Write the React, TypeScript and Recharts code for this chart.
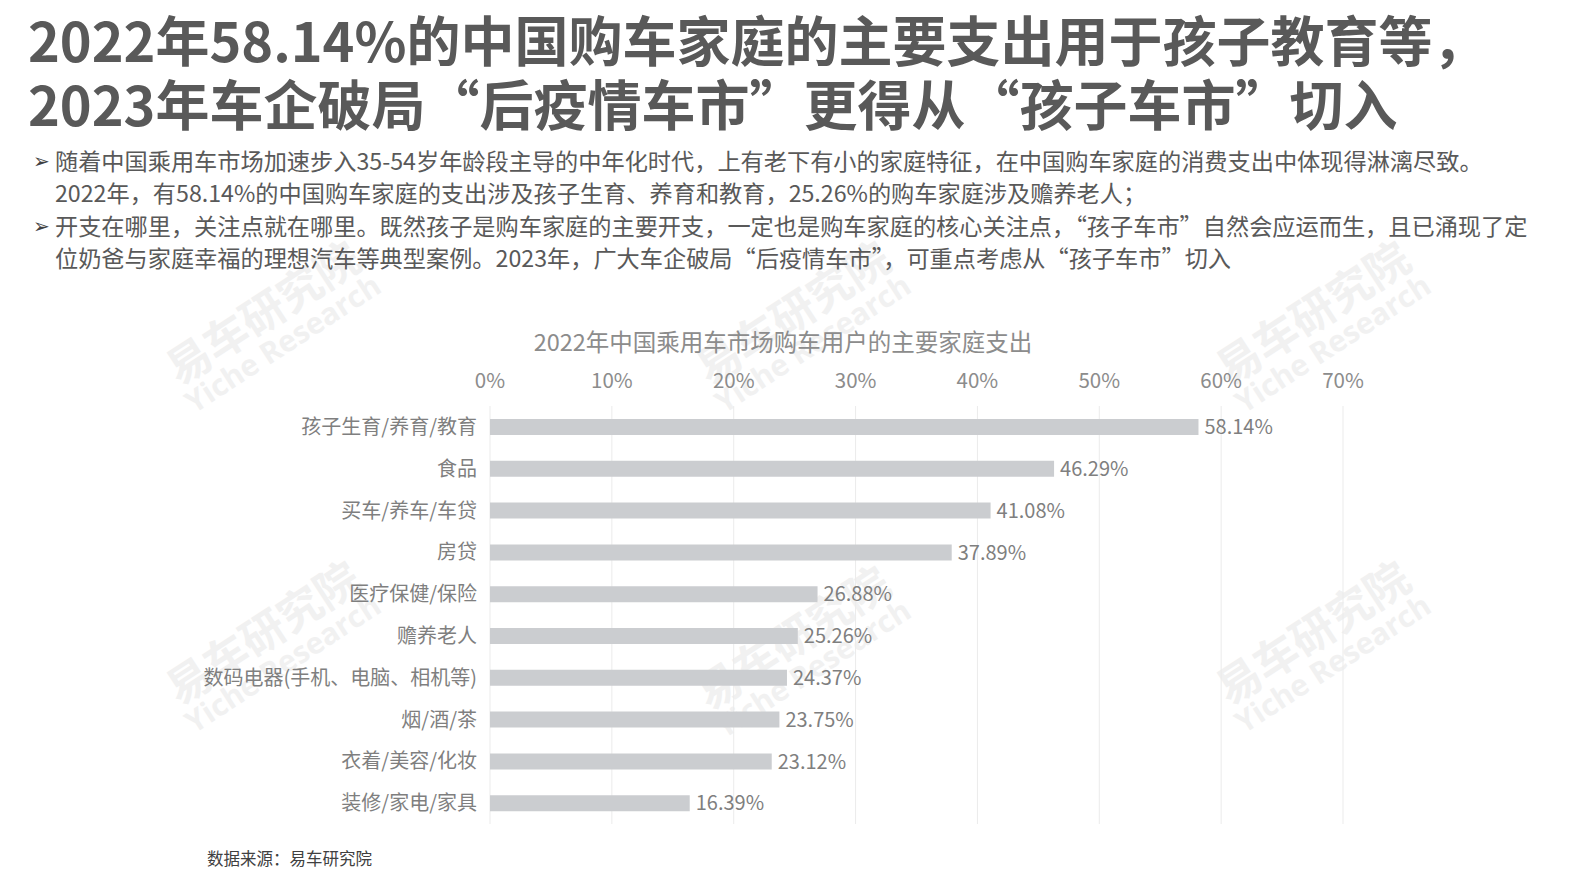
import React from "react";
import {
  BarChart,
  Bar,
  XAxis,
  YAxis,
  CartesianGrid,
  LabelList,
} from "recharts";

const categories = [
  "孩子生育/养育/教育",
  "食品",
  "买车/养车/车贷",
  "房贷",
  "医疗保健/保险",
  "赡养老人",
  "数码电器(手机、电脑、相机等)",
  "烟/酒/茶",
  "衣着/美容/化妆",
  "装修/家电/家具",
];
const shares = [58.14, 46.29, 41.08, 37.89, 26.88, 25.26, 24.37, 23.75, 23.12, 16.39];
const axisTicks = [0, 10, 20, 30, 40, 50, 60, 70];

const titleLines = [
  "2022年58.14%的中国购车家庭的主要支出用于孩子教育等，",
  "2023年车企破局“后疫情车市”更得从“孩子车市”切入",
];
const bullets = [
  [
    "随着中国乘用车市场加速步入35-54岁年龄段主导的中年化时代，上有老下有小的家庭特征，在中国购车家庭的消费支出中体现得淋漓尽致。",
    "2022年，有58.14%的中国购车家庭的支出涉及孩子生育、养育和教育，25.26%的购车家庭涉及赡养老人；",
  ],
  [
    "开支在哪里，关注点就在哪里。既然孩子是购车家庭的主要开支，一定也是购车家庭的核心关注点，“孩子车市”自然会应运而生，且已涌现了定",
    "位奶爸与家庭幸福的理想汽车等典型案例。2023年，广大车企破局“后疫情车市”，可重点考虑从“孩子车市”切入",
  ],
];
const chartTitle = "2022年中国乘用车市场购车用户的主要家庭支出";
const source = "数据来源：易车研究院";

const data = categories.map((name, i) => ({ name, value: shares[i] }));

const FONT = '"Noto Sans CJK SC", "Noto Sans", sans-serif';
const watermarkSpots = [
  [270, 335],
  [800, 335],
  [1320, 335],
  [270, 655],
  [800, 660],
  [1320, 655],
];

function Watermark({ x, y }: { x: number; y: number }) {
  return (
    <div
      style={{
        position: "absolute",
        left: x - 150,
        top: y - 50,
        width: 300,
        textAlign: "center",
        transform: "rotate(-33deg)",
        color: "#f1f1f1",
        fontWeight: 700,
        lineHeight: 1.05,
        pointerEvents: "none",
      }}
    >
      <div style={{ fontSize: 44 }}>易车研究院</div>
      <div style={{ fontSize: 30, fontFamily: '"Open Sans", sans-serif' }}>Yiche Research</div>
    </div>
  );
}

export default function App() {
  return (
    <div
      style={{
        position: "fixed",
        left: 0,
        top: 0,
        width: 1587,
        height: 893,
        background: "#ffffff",
        fontFamily: FONT,
        overflow: "hidden",
      }}
    >
      {watermarkSpots.map(([x, y], i) => (
        <Watermark key={i} x={x} y={y} />
      ))}

      <div
        style={{
          position: "absolute",
          left: 28,
          top: 7,
          fontSize: 54,
          fontWeight: 700,
          color: "#595959",
          whiteSpace: "nowrap",
          lineHeight: "64px",
        }}
      >
        {titleLines[0]}
        <br />
        {titleLines[1]}
      </div>

      {bullets.map((lines, bi) =>
        lines.map((line, li) => (
          <div
            key={line}
            style={{
              position: "absolute",
              left: 55,
              top: 144 + (bi * 2 + li) * 32.4,
              fontSize: 23.2,
              color: "#595959",
              whiteSpace: "nowrap",
              lineHeight: "32px",
            }}
          >
            {li === 0 && (
              <span style={{ position: "absolute", left: -22, fontSize: 20, color: "#404040" }}>➢</span>
            )}
            {line}
          </div>
        ))
      )}

      <div
        style={{
          position: "absolute",
          left: 0,
          width: 1566,
          top: 325,
          textAlign: "center",
          fontSize: 23.5,
          color: "#8c8c8c",
          lineHeight: "32px",
        }}
      >
        {chartTitle}
      </div>

      <div style={{ position: "absolute", left: 0, top: 0 }}>
        <BarChart
          width={1587}
          height={893}
          data={data}
          layout="vertical"
          margin={{ top: 376, right: 244, bottom: 69, left: 0 }}
          barCategoryGap={13}
        >
          <CartesianGrid horizontal={false} stroke="#ebebeb" />
          <XAxis
            type="number"
            orientation="top"
            domain={[0, 70]}
            ticks={axisTicks}
            tickFormatter={(v) => `${v}%`}
            height={30}
            axisLine={false}
            tickLine={false}
            tickSize={0}
            tickMargin={18}
            tick={{ fill: "#8c8c8c", fontSize: 20.5, fontFamily: FONT }}
          />
          <YAxis
            type="category"
            dataKey="name"
            width={490}
            axisLine={false}
            tickLine={false}
            tickSize={0}
            tickMargin={13}
            interval={0}
            tick={{ fill: "#7f7f7f", fontSize: 20, fontFamily: FONT }}
          />
          <Bar dataKey="value" fill="#cbcdd0" barSize={16} isAnimationActive={false}>
            <LabelList
              dataKey="value"
              position="right"
              offset={6}
              formatter={(v: number) => `${v.toFixed(2)}%`}
              style={{ fill: "#7f7f7f", fontSize: 20, fontFamily: FONT }}
            />
          </Bar>
        </BarChart>
      </div>

      <div
        style={{
          position: "absolute",
          left: 207,
          top: 846,
          fontSize: 16.5,
          color: "#404040",
          lineHeight: "24px",
        }}
      >
        {source}
      </div>
    </div>
  );
}
